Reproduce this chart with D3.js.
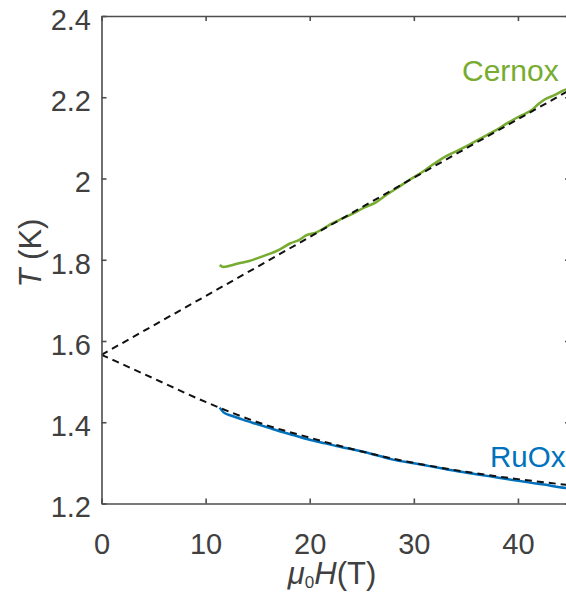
<!DOCTYPE html>
<html>
<head>
<meta charset="utf-8">
<script src="https://cdn.jsdelivr.net/npm/d3@7"></script>
<style>
  body { margin: 0; background: #fff; }
  svg { display: block; overflow: hidden; font-family: "Liberation Sans", Arial, sans-serif; }
</style>
</head>
<body>
<div id="chart"></div>
<script>
// axis ticks
var xTicks = [0, 10, 20, 30, 40];
var yTicks = [1.2, 1.4, 1.6, 1.8, 2, 2.2, 2.4];

// Cernox sensor (green)
var cernoxH = [11.35, 11.7, 12.3, 13.3, 14.2, 15.2, 16.2, 17.1, 18.1, 19.0, 19.65, 20.6, 21.4, 22.2, 23.1, 24.1,
    25.2, 26.4, 27.5, 28.6, 29.6, 30.7, 31.7, 32.7, 33.5, 34.3, 35.3, 36.3, 37.1, 37.9, 38.7, 39.5,
    40.4, 41.4, 42.0, 42.6, 43.5, 44.4, 45];
var cernoxT = [1.787, 1.782, 1.785, 1.792, 1.797, 1.806, 1.815, 1.825, 1.840, 1.849, 1.860, 1.867, 1.878, 1.890, 1.901, 1.913,
    1.928, 1.942, 1.962, 1.980, 1.997, 2.014, 2.032, 2.049, 2.060, 2.070, 2.083, 2.097, 2.108, 2.119, 2.132, 2.144,
    2.156, 2.170, 2.184, 2.195, 2.205, 2.217, 2.222];

// RuOx sensor (blue)
var ruoxH = [11.35, 11.7, 12.5, 13.5, 15, 16, 17.1, 18.5, 20, 21.5, 23, 24.5, 26.7, 28, 30, 31.5,
    33, 34.5, 36.3, 38, 39.5, 41, 42.7, 44, 45];
var ruoxT = [1.436, 1.425, 1.416, 1.407, 1.395, 1.387, 1.378, 1.368, 1.357, 1.348, 1.339, 1.331, 1.317, 1.308, 1.299, 1.292,
    1.285, 1.278, 1.271, 1.264, 1.258, 1.252, 1.246, 1.240, 1.237];

// dashed fit lines
var fitUpH = [0, 15, 30, 45];
var fitUpT = [1.566, 1.783, 2.002, 2.218];
var fitLowH = [0, 5, 10, 15, 20, 25, 30, 35, 40, 45];
var fitLowT = [1.566, 1.508, 1.450, 1.400, 1.362, 1.328, 1.300, 1.278, 1.260, 1.245];

var W = 566, H = 592;
var margin = {left: 101.5, right: 570, top: 16, bottom: 503.5};
var axisColor = '#4d4d4d', textColor = '#404040';

var svg = d3.select('#chart').append('svg')
    .attr('width', W)
    .attr('height', H);

var x = d3.scaleLinear().domain([0, 45]).range([margin.left, margin.right]);
var y = d3.scaleLinear().domain([1.2, 2.4]).range([margin.bottom, margin.top]);

svg.append('clipPath').attr('id', 'plot')
  .append('rect')
    .attr('x', margin.left).attr('y', margin.top)
    .attr('width', margin.right - margin.left).attr('height', margin.bottom - margin.top);

var zip = (hs, ts) => hs.map((h, i) => ({h: h, t: ts[i]}));
var line = d3.line().x(d => x(d.h)).y(d => y(d.t));
var curve = d3.line().curve(d3.curveMonotoneX).x(d => x(d.h)).y(d => y(d.t));

var plot = svg.append('g').attr('clip-path', 'url(#plot)');

plot.append('path')
    .attr('d', curve(zip(cernoxH, cernoxT)))
    .attr('fill', 'none')
    .attr('stroke', '#77AC30')
    .attr('stroke-width', 2.5)
    .attr('stroke-linejoin', 'round');

plot.append('path')
    .attr('d', curve(zip(ruoxH, ruoxT)))
    .attr('fill', 'none')
    .attr('stroke', '#0072BD')
    .attr('stroke-width', 2.5)
    .attr('stroke-linejoin', 'round');

plot.append('path')
    .attr('d', line(zip(fitUpH, fitUpT)))
    .attr('fill', 'none')
    .attr('stroke', '#111')
    .attr('stroke-width', 2)
    .attr('stroke-dasharray', '7,5');

plot.append('path')
    .attr('d', curve(zip(fitLowH, fitLowT)))
    .attr('fill', 'none')
    .attr('stroke', '#111')
    .attr('stroke-width', 2)
    .attr('stroke-dasharray', '7,5');

// axes (box on, ticks inward)
function styleAxis(g) {
    g.selectAll('path, line').attr('stroke', axisColor).attr('stroke-width', 1.6);
    g.selectAll('text')
        .attr('fill', textColor)
        .style('font-size', '29px')
        .style('font-family', '"Liberation Sans", Arial, sans-serif');
}

svg.append('g')
    .attr('transform', 'translate(0,' + margin.bottom + ')')
    .call(d3.axisBottom(x).tickValues(xTicks).tickSize(-5).tickSizeOuter(0).tickPadding(30).tickFormat(d3.format('d')))
    .call(styleAxis);

svg.append('g')
    .attr('transform', 'translate(' + margin.left + ',0)')
    .call(d3.axisLeft(y).tickValues(yTicks).tickSize(-5).tickSizeOuter(0).tickPadding(10.5).tickFormat(d => String(+d.toFixed(1))))
    .call(styleAxis)
    .selectAll('text').attr('dy', '0.46em');

svg.append('g')
    .attr('transform', 'translate(0,' + margin.top + ')')
    .call(d3.axisTop(x).tickValues(xTicks).tickSize(-5).tickSizeOuter(0).tickFormat(''))
    .call(styleAxis);

svg.append('g')
    .attr('transform', 'translate(' + margin.right + ',0)')
    .call(d3.axisRight(y).tickValues(yTicks).tickSize(-5).tickSizeOuter(0).tickFormat(''))
    .call(styleAxis);

// series labels
svg.append('text')
    .attr('x', 462).attr('y', 81)
    .attr('fill', '#77AC30')
    .style('font-size', '30px')
    .text('Cernox');

svg.append('text')
    .attr('x', 490).attr('y', 467)
    .attr('fill', '#0072BD')
    .style('font-size', '29.5px')
    .text('RuOx');

// axis labels
var xl = svg.append('text')
    .attr('x', 332).attr('y', 584)
    .attr('text-anchor', 'middle')
    .attr('fill', textColor)
    .style('font-size', '31px');
xl.append('tspan').style('font-style', 'italic').text('\u03bc');
xl.append('tspan').attr('dy', 4).style('font-size', '17px').text('0');
xl.append('tspan').attr('dy', -4).style('font-style', 'italic').text('H');
xl.append('tspan').text('(T)');

var yl = svg.append('text')
    .attr('transform', 'translate(41,253) rotate(-90)')
    .attr('text-anchor', 'middle')
    .attr('fill', textColor)
    .style('font-size', '31px');
yl.append('tspan').style('font-style', 'italic').text('T');
yl.append('tspan').text(' (K)');
</script>
</body>
</html>
